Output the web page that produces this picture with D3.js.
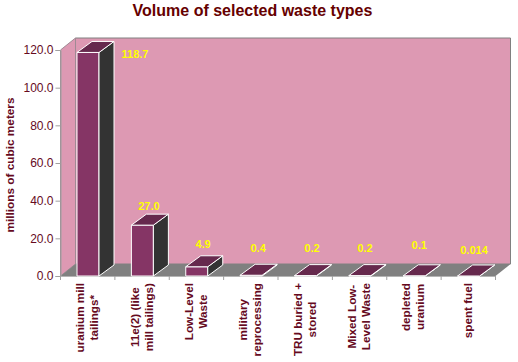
<!DOCTYPE html>
<html><head><meta charset="utf-8">
<script src="https://cdnjs.cloudflare.com/ajax/libs/d3/7.8.5/d3.min.js"></script>
<style>html,body{margin:0;padding:0;background:#fff}svg{display:block}text{font-family:"Liberation Sans",Arial,sans-serif}</style>
</head><body><svg id="c" width="518" height="362"></svg>
<script>
const categories=[["uranium mill","tailings*"],["11e(2) (like","mill tailings)"],["Low-Level","Waste"],["military","reprocessing"],["TRU buried +","stored"],["Mixed Low-","Level Waste"],["depleted","uranium"],["spent fuel"]];
const values=[118.7,27.0,4.9,0.4,0.2,0.2,0.1,0.014];
const valueLabels=["118.7","27.0","4.9","0.4","0.2","0.2","0.1","0.014"];
const yTicks=[0,20,40,60,80,100,120];
const title="Volume of selected waste types";
const yTitle="millions of cubic meters";
// label nudges relative to the bar's top-back corner
const labelDx=[21,-19.4,-19.7,-19,-19.5,-21,-21,-20.6];
const labelDy=[16.5,-4,-8,-12,-12.6,-12.6,-15.8,-11];

const svg=d3.select("#c");
const dark="#660a1e";
const L=60.5,R=495.5,T=50,B=276,DX=15,DY=12;
const x=d3.scaleBand().domain(d3.range(values.length)).range([L,R]);
const y=d3.scaleLinear().domain([0,120]).range([B,T]);
const poly=p=>p.map(q=>q.join(",")).join(" ");

svg.append("text").attr("x",252.5).attr("y",16).attr("text-anchor","middle")
  .attr("font-size",16).attr("font-weight","bold").attr("fill","#660000").text(title);

// back wall, side wall, floor
svg.append("polygon").attr("points",poly([[L+DX,T-DY],[R+DX,T-DY],[R+DX,B-DY],[L+DX,B-DY]])).attr("fill","#dd99b3").attr("stroke","#808080");
svg.append("polygon").attr("points",poly([[L,T],[L+DX,T-DY],[L+DX,B-DY],[L,B]])).attr("fill","#dd99b3").attr("stroke","#a08a94");
svg.append("polygon").attr("points",poly([[L,B],[L+DX,B-DY],[R+DX,B-DY],[R,B]])).attr("fill","#808080");

// axes
const ya=d3.axisLeft(y).tickValues(yTicks).tickFormat(d3.format(".1f")).tickSize(5).tickPadding(2);
const yg=svg.append("g").attr("transform",`translate(${L},0)`).call(ya);
yg.select(".domain").attr("stroke","#a0a0a0");
yg.selectAll("line").attr("stroke","#a0a0a0");
yg.selectAll("text").attr("font-size",12).attr("fill",dark).attr("font-family","Liberation Sans");

const xa=svg.append("g");
xa.append("line").attr("x1",L).attr("x2",R).attr("y1",B+.5).attr("y2",B+.5).attr("stroke","#b4b4b4");
xa.selectAll("line.t").data(d3.range(values.length+1)).join("line").attr("class","t")
  .attr("x1",i=>L+x.step()*i).attr("x2",i=>L+x.step()*i).attr("y1",B).attr("y2",B+4).attr("stroke","#a0a0a0");

svg.append("text").attr("transform","translate(14,165) rotate(-90)").attr("text-anchor","middle")
  .attr("font-size",11.8).attr("font-weight","bold").attr("fill",dark).text(yTitle);

// bars
const barW=22, inset=16.5, bDX=15, bDY=11;
const bars=svg.selectAll("g.bar").data(values).join("g").attr("class","bar");
const X0=(d,i)=>x(i)+inset;
bars.append("polygon").attr("points",(d,i)=>{const a=X0(d,i),t=y(d);return poly([[a,t],[a+barW,t],[a+barW,B],[a,B]]);}).attr("fill","#853565").attr("stroke","#fff");
bars.append("polygon").attr("points",(d,i)=>{const a=X0(d,i)+barW,t=y(d);return poly([[a,t],[a+bDX,t-bDY],[a+bDX,B-bDY],[a,B]]);}).attr("fill","#333333").attr("stroke","#fff");
bars.append("polygon").attr("points",(d,i)=>{const a=X0(d,i),t=y(d);return poly([[a,t],[a+bDX,t-bDY],[a+barW+bDX,t-bDY],[a+barW,t]]);}).attr("fill","#66294d").attr("stroke","#fff");

// value labels
svg.selectAll("text.v").data(values).join("text").attr("class","v")
  .attr("x",(d,i)=>X0(d,i)+barW+bDX+labelDx[i]).attr("y",(d,i)=>y(d)-bDY+labelDy[i])
  .attr("text-anchor","middle").attr("font-size",11).attr("font-weight","bold").attr("fill","#ffff00")
  .text((d,i)=>valueLabels[i]);

// category labels
categories.forEach((lines,i)=>{
  const cx=x(i)+x.step()/2+3.5, top=283;
  const g=svg.append("g");
  const ts=lines.map((s,k)=>g.append("text").attr("font-size",11.7).attr("font-weight","bold").attr("fill",dark).attr("text-anchor","middle").text(s));
  const maxLen=d3.max(ts,t=>t.node().getComputedTextLength());
  ts.forEach((t,k)=>{
    const bx=cx+(k-(lines.length-1)/2)*14;
    t.attr("transform",`translate(${bx},${top+maxLen/2}) rotate(-90)`);
  });
});
</script></body></html>
